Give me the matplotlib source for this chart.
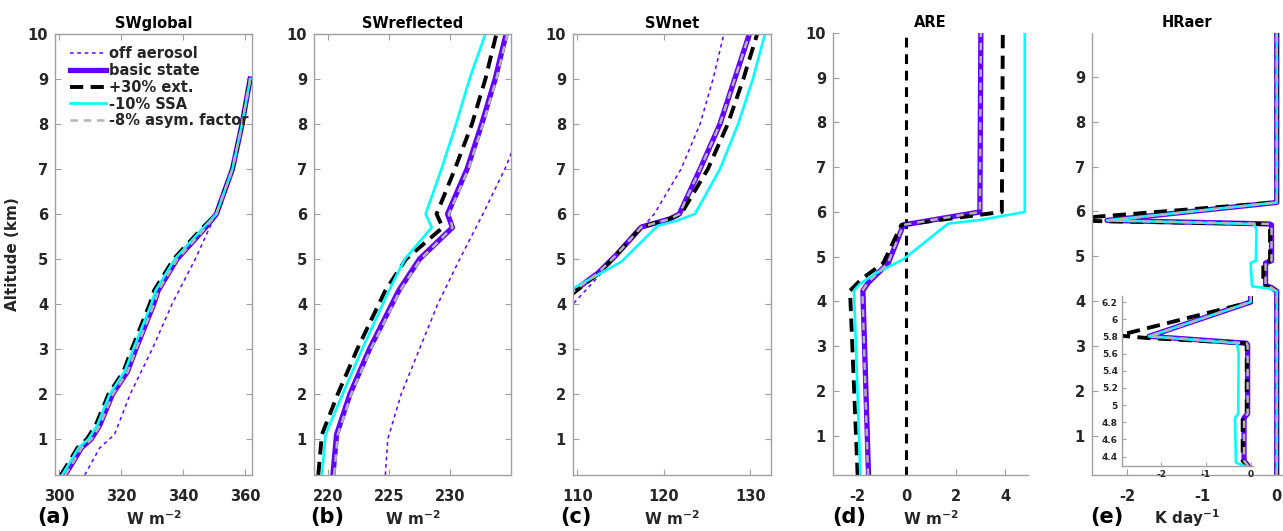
import matplotlib
matplotlib.use('Agg')
import matplotlib.pyplot as plt
from matplotlib.ticker import FormatStrFormatter

plt.rcParams['font.family'] = 'DejaVu Sans'
plt.rcParams['font.weight'] = 'bold'
plt.rcParams['mathtext.default'] = 'bf'
plt.rcParams['axes.unicode_minus'] = False

PURPLE = '#6400ff'
CYAN = '#00ffff'
GREY = '#b4b4b4'
TXT = '#262626'
AX = '#a0a0a0'

###########################################################
#### data (altitude in km)
###########################################################

# (a) SWglobal
alt_a = [0.2, 0.5, 0.8, 1.0, 1.3, 2.0, 2.5, 3.0, 4.0, 4.3, 5.0, 5.7, 6.0, 7.0, 8.0, 9.0]
basic_a = [301.9, 304.6, 307.2, 310.4, 313.1, 317.3, 322.1, 324.8, 330.6, 332.0, 338.1, 347.3, 350.8, 356.0, 359.1, 361.7]
ext_a = [300.6, 303.3, 305.9, 309.0, 311.8, 316.0, 320.8, 323.5, 329.3, 330.7, 337.0, 346.4, 350.8, 356.0, 359.1, 361.7]
ssa_a = [301.0, 303.7, 306.3, 309.5, 312.3, 316.4, 321.2, 324.0, 329.8, 331.2, 337.4, 346.7, 350.8, 356.0, 359.1, 361.7]
asym_a = [302.0, 304.7, 307.3, 310.5, 313.2, 317.4, 322.2, 324.9, 330.7, 332.1, 338.2, 347.4, 350.8, 356.0, 359.1, 361.7]
alt_off_a = [0.2, 0.8, 1.1, 2.0, 3.0, 4.0, 5.0, 5.8, 6.0, 7.0, 8.0, 9.0]
off_a = [308.3, 313.1, 317.9, 323.0, 330.1, 336.5, 344.0, 349.3, 350.8, 356.0, 359.1, 361.7]

# (b) SWreflected
alt_b = [0.2, 1.1, 2.0, 3.0, 4.3, 5.0, 5.7, 6.0, 7.0, 8.0, 9.0, 10.0]
basic_b = [220.4, 220.7, 221.8, 223.4, 225.8, 227.5, 230.2, 229.8, 231.4, 232.6, 233.7, 234.6]
ext_b = [219.2, 219.5, 220.8, 222.4, 224.7, 226.4, 229.4, 228.9, 230.4, 231.8, 232.9, 233.8]
ssa_b = [219.5, 219.8, 221.2, 222.8, 225.0, 226.3, 228.5, 228.0, 229.3, 230.5, 231.6, 232.9]
asym_b = [220.5, 220.8, 221.9, 223.5, 225.9, 227.6, 230.2, 229.9, 231.5, 232.7, 233.8, 234.7]
alt_off_b = [0.2, 1.0, 2.0, 3.0, 4.0, 5.0, 6.0, 7.0, 8.0]
off_b = [224.7, 224.9, 226.0, 227.5, 229.0, 230.8, 232.7, 234.5, 236.0]

# (c) SWnet
alt_c = [4.2, 4.28, 4.69, 5.09, 5.71, 5.89, 6.0, 7.0, 8.0, 9.0, 10.0]
basic_c = [109.1, 109.54, 112.4, 114.5, 117.4, 120.7, 121.8, 124.2, 126.5, 128.2, 129.9]
ext_c = [109.3, 109.8, 112.5, 114.5, 117.4, 120.6, 122.0, 125.1, 127.4, 129.2, 130.8]
asym_c = [109.1, 109.54, 112.4, 114.5, 117.4, 120.7, 121.8, 124.2, 126.5, 128.2, 129.9]
alt_ssa_c = [4.2, 4.35, 4.94, 5.74, 5.85, 6.0, 7.0, 8.0, 9.0, 10.0]
ssa_c = [109.0, 109.54, 115.1, 119.3, 121.5, 123.6, 126.5, 128.6, 130.3, 131.7]
alt_off_c = [3.9, 4.0, 5.0, 6.0, 7.0, 8.0, 9.0, 10.0]
off_c = [109.0, 109.5, 114.3, 118.9, 122.0, 124.2, 125.7, 126.95]

# (d) ARE
alt_d = [0.1, 4.24, 4.42, 4.86, 5.71, 6.0, 10.0]
basic_d = [-1.53, -1.76, -1.54, -0.73, -0.12, 2.98, 3.02]
asym_d = [-1.55, -1.78, -1.56, -0.74, -0.12, 2.98, 3.02]
alt_ext_d = [0.1, 4.24, 4.5, 4.86, 5.71, 6.0, 10.0]
ext_d = [-1.97, -2.28, -1.81, -0.93, -0.2, 3.87, 3.91]
alt_ssa_d = [0.1, 4.24, 4.39, 4.64, 4.94, 5.74, 5.82, 6.0, 10.0]
ssa_d = [-1.86, -2.12, -1.88, -1.2, -0.12, 1.7, 2.98, 4.8, 4.8]
alt_off_d = [0.1, 10.0]
off_d = [0.0, 0.0]

# (e) HRaer
alt_e = [0.1, 4.22, 4.3, 4.35, 4.85, 4.9, 5.7, 5.72, 5.8, 6.2, 10.0]
basic_e = [0.0, 0.0, -0.07, -0.15, -0.15, -0.07, -0.07, -0.1, -2.27, 0.0, 0.0]
asym_e = [0.0, 0.0, -0.07, -0.15, -0.15, -0.07, -0.07, -0.1, -2.25, 0.0, 0.0]
alt_ext_e = [0.1, 4.22, 4.3, 4.35, 4.85, 4.9, 5.7, 5.72, 5.78, 5.81, 6.2, 10.0]
ext_e = [0.0, 0.0, -0.08, -0.18, -0.18, -0.09, -0.09, -0.12, -2.3, -2.95, 0.0, 0.0]
alt_ssa_e = [0.1, 4.22, 4.28, 4.33, 4.85, 4.9, 5.6, 5.7, 5.72, 5.8, 6.2, 10.0]
ssa_e = [0.0, 0.0, -0.1, -0.33, -0.35, -0.28, -0.27, -0.3, -0.3, -2.27, 0.0, 0.0]

labels = ['off aerosol', 'basic state', '+30% ext.', '-10% SSA', '-8% asym. factor']

###########################################################
#### styles
###########################################################

OFF = dict(color=PURPLE, lw=1.1, dashes=(2.4, 2.4))
BASIC = dict(color=PURPLE, lw=3.8, solid_joinstyle='round')
EXT = dict(color='black', lw=2.8, dashes=(3.4, 1.9))
SSA = dict(color=CYAN, lw=1.9)
ASYM = dict(color=GREY, lw=1.8, dashes=(3.0, 2.3))
ZERO = dict(color='black', lw=2.2, dashes=(3.2, 2.2))


def style_axes(ax, box=True, fs=10.5, xpad=10):
    for s in ax.spines.values():
        s.set_color(AX)
        s.set_linewidth(1.0)
    if not box:
        ax.spines['top'].set_visible(False)
        ax.spines['right'].set_visible(False)
    ax.tick_params(direction='in', length=4, color=AX, labelcolor=TXT,
                   labelsize=fs, top=box, right=box)
    ax.tick_params(axis='x', pad=xpad)
    ax.tick_params(axis='y', pad=5)
    ax.xaxis.set_major_formatter(FormatStrFormatter('%g'))
    ax.yaxis.set_major_formatter(FormatStrFormatter('%g'))
    for t in ax.get_xticklabels() + ax.get_yticklabels():
        t.set_fontweight('bold')


def set_xlab(ax, text):
    ax.set_xlabel(text, fontsize=11, fontweight='bold', color=TXT)
    ax.xaxis.label.set_va('center')
    ax.xaxis.set_label_coords(0.5, -0.098)


W, H = 1283, 531
fig = plt.figure(figsize=(W / 100, H / 100), dpi=100)


def rect(l, r, t, b):
    return [l / W, 1 - b / H, (r - l) / W, (b - t) / H]


ax_a = fig.add_axes(rect(55, 252, 34, 475))
ax_b = fig.add_axes(rect(314, 511, 34, 475))
ax_c = fig.add_axes(rect(573, 771, 34, 475))
ax_d = fig.add_axes(rect(833, 1028, 33, 475))
ax_e = fig.add_axes(rect(1092, 1282, 33, 475))
ax_in = fig.add_axes(rect(1122, 1253, 296, 466))

# (a)
ax_a.plot(off_a, alt_off_a, label=labels[0], **OFF)
ax_a.plot(basic_a, alt_a, label=labels[1], **BASIC)
ax_a.plot(ext_a, alt_a, label=labels[2], **EXT)
ax_a.plot(ssa_a, alt_a, label=labels[3], **SSA)
ax_a.plot(asym_a, alt_a, label=labels[4], **ASYM)
ax_a.set_xlim(298.7, 362.3)
ax_a.set_xticks([300, 320, 340, 360])
ax_a.set_ylabel('Altitude (km)', fontsize=11, fontweight='bold', color=TXT)
ax_a.yaxis.set_label_coords(-0.178, 0.5)
leg = ax_a.legend(loc='upper left', bbox_to_anchor=(0.076, 0.972), frameon=False,
                  borderpad=0, borderaxespad=0, handlelength=2.5, handletextpad=0.15,
                  labelspacing=0.12, prop=dict(weight='bold', size=10.5))
for t in leg.get_texts():
    t.set_color(TXT)

# (b)
ax_b.plot(off_b, alt_off_b, **OFF)
ax_b.plot(basic_b, alt_b, **BASIC)
ax_b.plot(ext_b, alt_b, **EXT)
ax_b.plot(ssa_b, alt_b, **SSA)
ax_b.plot(asym_b, alt_b, **ASYM)
ax_b.set_xlim(218.85, 235.0)
ax_b.set_xticks([220, 225, 230])

# (c)
ax_c.plot(off_c, alt_off_c, **OFF)
ax_c.plot(basic_c, alt_c, **BASIC)
ax_c.plot(ext_c, alt_c, **EXT)
ax_c.plot(ssa_c, alt_ssa_c, **SSA)
ax_c.plot(asym_c, alt_c, **ASYM)
ax_c.set_xlim(109.5, 132.4)
ax_c.set_xticks([110, 120, 130])

# (d)
ax_d.plot(off_d, alt_off_d, **ZERO)
ax_d.plot(basic_d, alt_d, **BASIC)
ax_d.plot(ext_d, alt_ext_d, **EXT)
ax_d.plot(ssa_d, alt_ssa_d, **SSA)
ax_d.plot(asym_d, alt_d, **ASYM)
ax_d.set_xlim(-2.97, 4.93)
ax_d.set_xticks([-2, 0, 2, 4])

# (e)
for ax in (ax_e, ax_in):
    ax.plot(basic_e, alt_e, **BASIC)
    ax.plot(ext_e, alt_ext_e, **EXT)
    ax.plot(ssa_e, alt_ssa_e, **SSA)
    ax.plot(asym_e, alt_e, **ASYM)
ax_e.set_xlim(-2.47, 0.07)
ax_e.set_xticks([-2, -1, 0])

for ax, title in zip((ax_a, ax_b, ax_c, ax_d, ax_e),
                     ('SWglobal', 'SWreflected', 'SWnet', 'ARE', 'HRaer')):
    ax.set_title(title, fontsize=10.5, fontweight='bold', pad=4)

for ax in (ax_a, ax_b, ax_c):
    ax.set_ylim(0.2, 10)
    ax.set_yticks(range(1, 11))
    style_axes(ax, box=True)
ax_d.set_ylim(0.12, 10)
ax_d.set_yticks(range(1, 11))
style_axes(ax_d, box=False)
ax_e.set_ylim(0.12, 9.98)
ax_e.set_yticks(range(1, 10))
style_axes(ax_e, box=False)

# inset
ax_in.set_xlim(-2.87, 0.05)
ax_in.set_ylim(4.29, 6.27)
ax_in.set_xticks([-2, -1, 0])
ax_in.set_yticks([4.4, 4.6, 4.8, 5.0, 5.2, 5.4, 5.6, 5.8, 6.0, 6.2])
style_axes(ax_in, box=False, fs=6.5, xpad=4)
ax_in.tick_params(length=3, pad=3)
ax_in.patch.set_alpha(0)

set_xlab(ax_a, 'W m$^{-2}$')
set_xlab(ax_b, 'W m$^{-2}$')
set_xlab(ax_c, 'W m$^{-2}$')
set_xlab(ax_d, 'W m$^{-2}$')
set_xlab(ax_e, 'K day$^{-1}$')

for x, s in zip((37, 310, 560, 832, 1090), ('(a)', '(b)', '(c)', '(d)', '(e)')):
    fig.text(x / W, 1 - 517 / H, s, fontsize=15, fontweight='bold', va='center', ha='left')

fig.savefig('out.png', dpi=100)
